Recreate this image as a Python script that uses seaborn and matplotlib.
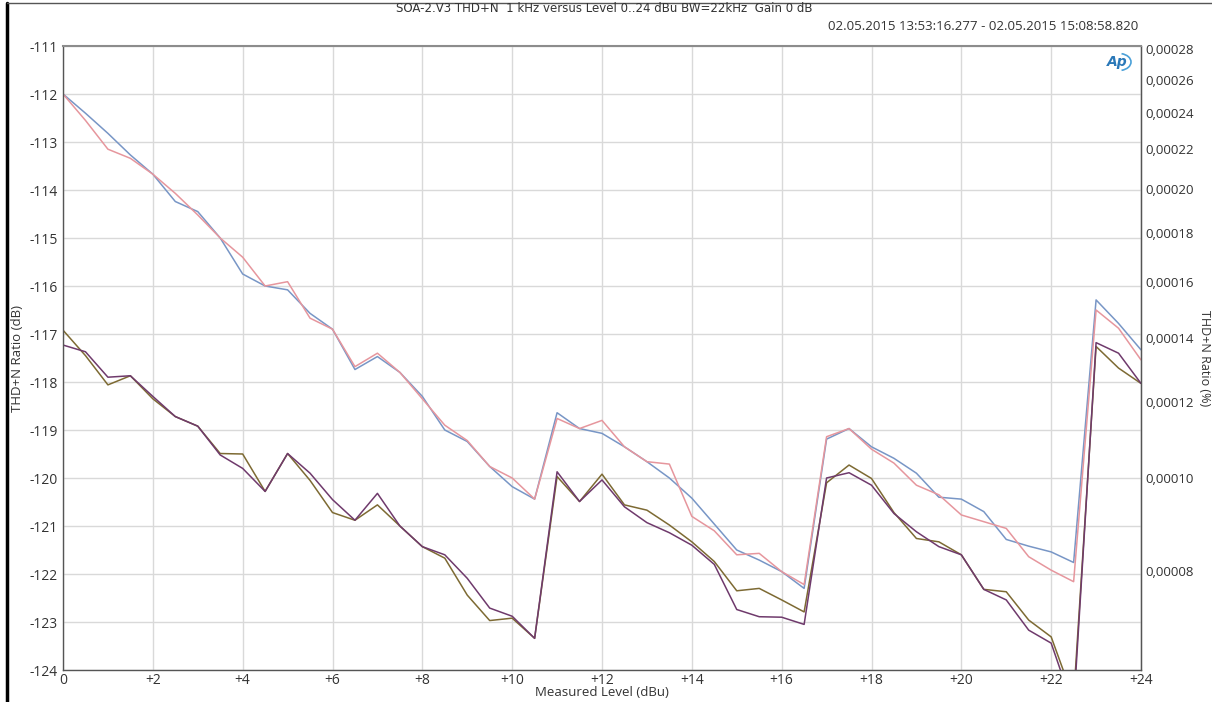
import numpy as np
import pandas as pd
import matplotlib
matplotlib.use("Agg")
import matplotlib.pyplot as plt
from matplotlib.patches import Arc
from matplotlib.lines import Line2D
from matplotlib.ticker import FuncFormatter, FixedLocator
import seaborn as sns

# ---------------- data ----------------
levels = [0, 0.5, 1, 1.5, 2, 2.5, 3, 3.5, 4, 4.5, 5, 5.5, 6, 6.5, 7, 7.5, 8, 8.5,
          9, 9.5, 10, 10.5, 11, 11.5, 12, 12.5, 13, 13.5, 14, 14.5, 15, 15.5, 16,
          16.5, 17, 17.5, 18, 18.5, 19, 19.5, 20, 20.5, 21, 21.5, 22, 22.5, 23,
          23.5, 24]

thdn_blue = [-112.0, -112.4, -112.82, -113.27, -113.67, -114.24, -114.45, -115.0,
             -115.75, -116.0, -116.08, -116.57, -116.9, -117.74, -117.47, -117.8,
             -118.3, -119.0, -119.24, -119.76, -120.18, -120.44, -118.64, -118.97,
             -119.07, -119.35, -119.66, -120.0, -120.42, -120.96, -121.5, -121.71,
             -121.95, -122.3, -119.19, -118.97, -119.35, -119.59, -119.9, -120.4,
             -120.44, -120.7, -121.28, -121.42, -121.54, -121.76, -116.29, -116.78,
             -117.33]

thdn_pink = [-112.0, -112.55, -113.15, -113.34, -113.67, -114.07, -114.52, -115.0,
             -115.40, -116.0, -115.91, -116.67, -116.9, -117.68, -117.4, -117.8,
             -118.35, -118.9, -119.22, -119.76, -120.0, -120.44, -118.76, -118.97,
             -118.8, -119.35, -119.66, -119.71, -120.8, -121.1, -121.6, -121.57,
             -121.95, -122.22, -119.14, -118.97, -119.4, -119.69, -120.15, -120.35,
             -120.77, -120.91, -121.05, -121.64, -121.92, -122.16, -116.5, -116.88,
             -117.54]

thdn_olive = [-116.92, -117.45, -118.06, -117.87, -118.35, -118.72, -118.92, -119.49,
              -119.5, -120.28, -119.49, -120.05, -120.72, -120.88, -120.56, -121.0,
              -121.43, -121.67, -122.44, -122.97, -122.92, -123.34, -119.97, -120.49,
              -119.92, -120.56, -120.67, -120.98, -121.33, -121.74, -122.35, -122.3,
              -122.54, -122.79, -120.1, -119.73, -120.01, -120.72, -121.26, -121.33,
              -121.6, -122.32, -122.37, -122.96, -123.31, -124.6, -117.26, -117.71,
              -118.03]

thdn_purple = [-117.23, -117.37, -117.9, -117.87, -118.3, -118.72, -118.92, -119.52,
               -119.8, -120.28, -119.49, -119.9, -120.45, -120.88, -120.32, -121.0,
               -121.43, -121.6, -122.09, -122.71, -122.88, -123.34, -119.87, -120.49,
               -120.04, -120.6, -120.93, -121.14, -121.4, -121.8, -122.74, -122.89,
               -122.9, -123.05, -120.0, -119.89, -120.15, -120.74, -121.12, -121.43,
               -121.6, -122.32, -122.54, -123.17, -123.44, -124.8, -117.18, -117.4,
               -118.03]

series_names = ["Ch1 A", "Ch1 B", "Ch2 A", "Ch2 B"]
x_tick_labels = ["0", "+2", "+4", "+6", "+8", "+10", "+12", "+14", "+16", "+18",
                 "+20", "+22", "+24"]
y_ticks = [-124, -123, -122, -121, -120, -119, -118, -117, -116, -115, -114, -113,
           -112, -111]
pct_ticks = [0.00008, 0.00010, 0.00012, 0.00014, 0.00016, 0.00018, 0.00020,
             0.00022, 0.00024, 0.00026, 0.00028]

title = "SOA-2.V3 THD+N  1 kHz versus Level 0..24 dBu BW=22kHz  Gain 0 dB"
date_text = "02.05.2015 13:53:16.277 - 02.05.2015 15:08:58.820"

frames = []
for name, vals in zip(series_names, [thdn_blue, thdn_pink, thdn_olive, thdn_purple]):
    frames.append(pd.DataFrame({"level": levels, "dB": vals, "series": name}))
df = pd.concat(frames, ignore_index=True)

palette = {"Ch1 A": "#7896c6", "Ch1 B": "#e6969d",
           "Ch2 A": "#7d6a33", "Ch2 B": "#6f3a6c"}

# ---------------- style ----------------
sns.set_style("white")
plt.rcParams["font.family"] = ["Open Sans", "DejaVu Sans"]
plt.rcParams["axes.unicode_minus"] = False

W, H = 1212, 702
fig = plt.figure(figsize=(W / 100, H / 100), dpi=100)
L, R, T, B = 63, 1141, 46, 670
ax = fig.add_axes([L / W, 1 - B / H, (R - L) / W, (B - T) / H])

sns.lineplot(data=df, x="level", y="dB", hue="series", palette=palette,
             hue_order=series_names, estimator=None, sort=False,
             linewidth=1.1, legend=False, ax=ax)

ax.set_xlim(0, 24)
ax.set_ylim(-124, -111)
ax.set_xticks(list(range(0, 25, 2)))
ax.set_xticklabels(x_tick_labels)
ax.set_yticks(y_ticks)
ax.set_yticklabels([str(v) for v in y_ticks])
ax.grid(True, color="#d9d9d9", linewidth=1.0)
ax.set_axisbelow(True)
ax.tick_params(axis="both", length=0, labelsize=10, colors="#333333", pad=4)
ax.tick_params(axis="x", pad=2)

for side in ["left", "bottom", "right"]:
    ax.spines[side].set_color("#555555")
    ax.spines[side].set_linewidth(1.0)
ax.spines["top"].set_color("#8c8c8c")
ax.spines["top"].set_linewidth(1.5)

ax.set_xlabel("Measured Level (dBu)", fontsize=9.5, color="#333333", labelpad=-1)
ax.set_ylabel("THD+N Ratio (dB)", fontsize=9.5, color="#333333", labelpad=4)


def db2pct(d):
    return 100.0 * np.power(10.0, np.asarray(d, dtype=float) / 20.0)


def pct2db(p):
    p = np.clip(np.asarray(p, dtype=float), 1e-12, None)
    return 20.0 * np.log10(p / 100.0)


sec = ax.secondary_yaxis("right", functions=(db2pct, pct2db))
sec.yaxis.set_major_locator(FixedLocator(pct_ticks))
sec.yaxis.set_minor_locator(FixedLocator([]))
sec.yaxis.set_major_formatter(FuncFormatter(lambda v, p: f"{v:.5f}".replace(".", ",")))
sec.tick_params(axis="y", length=0, labelsize=9.5, colors="#333333", pad=3)
sec.spines["right"].set_color("#555555")
sec.set_ylabel("THD+N Ratio (%)", fontsize=9, color="#333333", rotation=270,
               labelpad=5)
sec.yaxis.set_label_coords((1211 - L) / (R - L), 0.5, transform=ax.transAxes)

# titles
fig.text(604 / W, 1 - 9 / H, title, ha="center", va="center", fontsize=8.5,
         color="#333333", family=["DejaVu Sans"])
fig.text(1138 / W, 1 - 27 / H, date_text, ha="right", va="center", fontsize=9.5,
         color="#333333")

# AP logo
fig.text(1117 / W, 1 - 62 / H, "Ap", ha="center", va="center", fontsize=10,
         fontstyle="italic", fontweight="bold", color="#2a78b8",
         family=["DejaVu Sans"])
fig.add_artist(Arc((1119 / W, 1 - 62 / H), 24 / W, 17 / H, theta1=-80, theta2=80,
                   transform=fig.transFigure, color="#4aa0d8", lw=1.2))

# screenshot frame
fig.add_artist(Line2D([7 / W, 7 / W], [0, 1 - 3 / H], transform=fig.transFigure,
                      color="black", lw=2.5))
fig.add_artist(Line2D([7 / W, 1], [1 - 3 / H, 1 - 3 / H], transform=fig.transFigure,
                      color="#555555", lw=1.0))

fig.savefig("out.png", dpi=100)
